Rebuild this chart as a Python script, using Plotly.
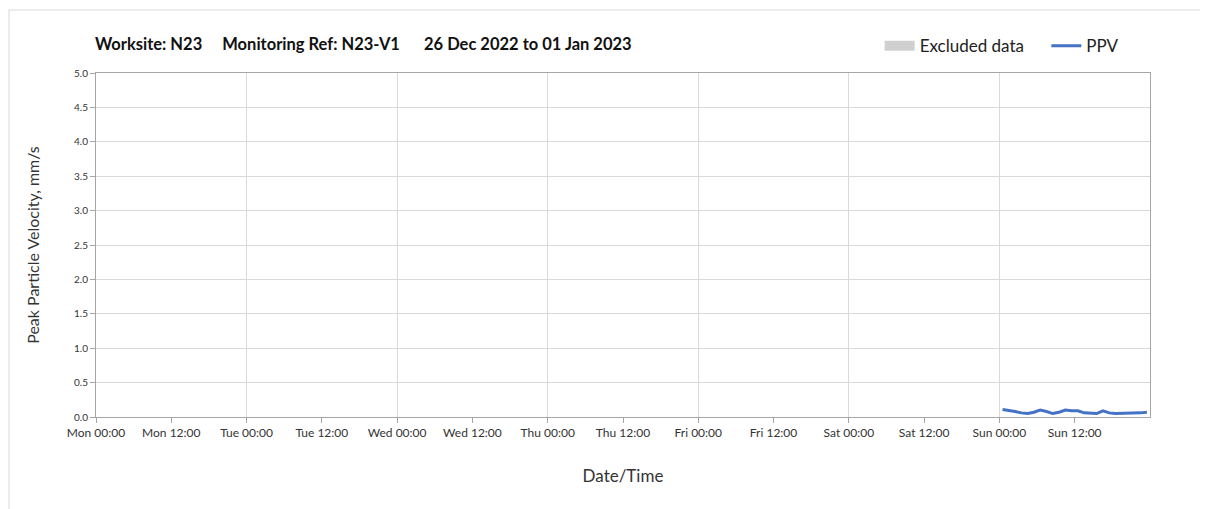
import pandas as pd
import plotly.graph_objects as go

# PPV readings (hourly, Sun 01 Jan 2023)
ppv_times = pd.date_range("2023-01-01 00:30", periods=24, freq="h")
ppv_values = [0.11, 0.10, 0.08, 0.06, 0.05, 0.07, 0.10, 0.08, 0.05, 0.07, 0.10, 0.09,
              0.09, 0.06, 0.05, 0.05, 0.09, 0.06, 0.05, 0.05, 0.05, 0.05, 0.06, 0.07]

x_start = "2022-12-26 00:00"
x_end = "2023-01-02 00:00"
title_text = ("Worksite: N23\u00a0\u00a0\u00a0\u00a0 Monitoring Ref: N23-V1"
              "\u00a0\u00a0\u00a0\u00a0\u00a0 26 Dec 2022 to 01 Jan 2023")

font_family = "Lato, 'Open Sans', sans-serif"
grid_col = "#d9d9d9"
axis_col = "#a6a6a6"

fig = go.Figure()

# legend-only entry for excluded data
fig.add_trace(go.Scatter(
    x=[None], y=[None], name="Excluded data\u00a0\u00a0\u00a0\u00a0", mode="lines",
    line=dict(color="#d0d0d0", width=12), xaxis="x2"
))

fig.add_trace(go.Scatter(
    x=ppv_times, y=ppv_values, mode="lines", name="PPV",
    line=dict(color="#4472c4", width=3)
))

fig.update_layout(
    width=1208, height=509,
    paper_bgcolor="white", plot_bgcolor="white",
    margin=dict(l=88, r=66, t=65, b=100),
    font=dict(family=font_family, color="#333333"),
    title=dict(text=f"<b>{title_text}</b>", x=87/1208, xanchor="left",
               y=1 - 36/509, yanchor="middle",
               font=dict(size=16.5, color="#111111")),
    legend=dict(orientation="h", x=0.975, xanchor="right", y=1.078, yanchor="middle",
                font=dict(size=17, color="#222222"), traceorder="normal",
                itemwidth=30, bgcolor="rgba(0,0,0,0)"),
    showlegend=True,
    xaxis=dict(
        type="date", range=[x_start, x_end],
        tickvals=pd.date_range(x_start, periods=14, freq="12h"),
        tickformat="%a %H:%M",
        showgrid=False, ticks="outside", ticklen=5, tickcolor=axis_col,
        showline=True, linecolor=axis_col, mirror=True,
        tickfont=dict(size=12, color="#333333"),
        title=dict(text="Date/Time", font=dict(size=17, color="#333333"), standoff=30),
        zeroline=False,
    ),
    xaxis2=dict(
        type="date", range=[x_start, x_end], overlaying="x",
        dtick=24 * 3600 * 1000, tick0=x_start,
        showgrid=True, gridcolor=grid_col, showticklabels=False, ticks="",
        showline=False, zeroline=False,
    ),
    yaxis=dict(
        range=[0, 5], dtick=0.5, tickformat=".1f",
        showgrid=True, gridcolor=grid_col, ticks="outside", ticklen=5,
        tickcolor=axis_col, showline=True, linecolor=axis_col, mirror=True,
        tickfont=dict(size=10, color="#333333"), zeroline=False,
        title=dict(text="Peak Particle Velocity, mm/s",
                   font=dict(size=16, color="#333333"), standoff=30),
    ),
    shapes=[dict(type="rect", xref="paper", yref="paper",
                 x0=(1 - 88) / 1054, x1=1.2, y0=-0.4, y1=(409 - 2) / 344,
                 line=dict(color="#d9d9d9", width=1), layer="below")],
)

fig.write_html("out.html")
